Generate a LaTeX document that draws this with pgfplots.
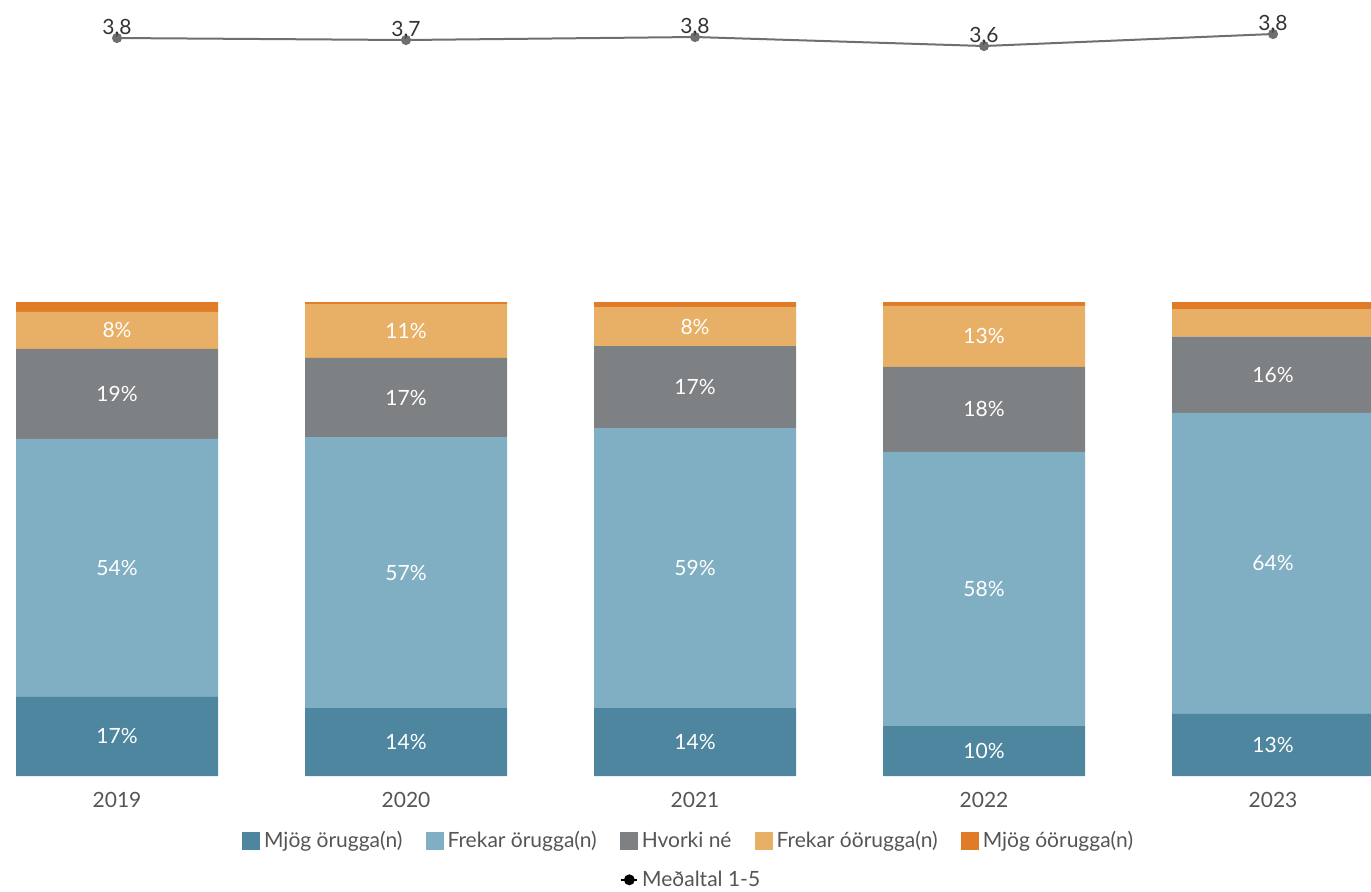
\documentclass[border=0pt]{standalone}
\usepackage{fontspec}
\setmainfont{Lato}
\usepackage{pgfplots}
\usepackage{pgfplotstable}
\pgfplotsset{compat=1.18}
\definecolor{c1}{HTML}{4E86A0}
\definecolor{c2}{HTML}{80AEC3}
\definecolor{c3}{HTML}{7D8184}
\definecolor{c4}{HTML}{E8AF66}
\definecolor{c5}{HTML}{E07B27}
\definecolor{linegray}{HTML}{6F6F6F}
\definecolor{txtgray}{HTML}{555555}
\definecolor{txtdark}{HTML}{333333}
\newcommand{\fs}{\fontsize{10.5}{12.6}\selectfont}
\pgfplotstableread{
x a b c d e
0 16.7 54.4 19.0 7.8 2.1
1 14.3 57.2 16.7 11.4 0.4
2 14.3 59.1 17.3 8.2 1.1
3 10.5 57.9 17.9 12.9 0.8
4 13.1 63.5 16.1 5.8 1.5
}\bars
\pgfplotstableread{
x y lab
0 8.35 17
0 43.9 54
0 80.6 19
0 94.0 8
1 7.15 14
1 42.9 57
1 79.85 17
1 93.9 11
2 7.15 14
2 43.85 59
2 82.05 17
2 94.8 8
3 5.25 10
3 39.45 58
3 77.35 18
3 92.75 13
4 6.55 13
4 44.85 64
4 84.65 16
}\labs
\begin{document}
\begin{tikzpicture}
\useasboundingbox (0pt,-57.5pt) rectangle (685.5pt,388pt);
% stacked bars
\begin{axis}[
  at={(0pt,0pt)}, anchor=south west, scale only axis,
  width=685.5pt, height=237pt,
  xmin=-0.405, xmax=4.339, ymin=0, ymax=100,
  ybar stacked, bar width=101pt,
  axis line style={draw=none}, ytick=\empty,
  xtick={0,1,2,3,4}, xticklabels={2019,2020,2021,2022,2023},
  major tick length=0pt,
  xticklabel style={font=\fs, text=txtgray, anchor=base, yshift=-15.75pt},
  legend style={at={(0.503,-0.137)}, anchor=center, draw=none, fill=none,
    legend columns=5, font=\fs, text=txtgray,
    /tikz/every even column/.append style={column sep=9.5pt}},
  legend image code/.code={\fill[#1] (0pt,-4.5pt) rectangle (9pt,4.5pt);},
]
\addplot[fill=c1, draw=none] table[x=x,y=a] {\bars};
\addplot[fill=c2, draw=none] table[x=x,y=b] {\bars};
\addplot[fill=c3, draw=none] table[x=x,y=c] {\bars};
\addplot[fill=c4, draw=none] table[x=x,y=d] {\bars};
\addplot[fill=c5, draw=none] table[x=x,y=e] {\bars};
\legend{Mjög örugga(n), Frekar örugga(n), Hvorki né, Frekar óörugga(n), Mjög óörugga(n)}
\end{axis}
% bar labels
\begin{axis}[
  at={(0pt,0pt)}, anchor=south west, scale only axis,
  width=685.5pt, height=237pt,
  xmin=-0.405, xmax=4.339, ymin=0, ymax=100,
  hide axis, clip=false,
]
\addplot[draw=none, mark=none, point meta=explicit symbolic,
  nodes near coords={\pgfplotspointmeta\%},
  every node near coord/.append style={anchor=center, text=white, font=\fs}]
  table[x=x,y=y,meta=lab] {\labs};
\end{axis}
% mean line
\begin{axis}[
  at={(0pt,357.5pt)}, anchor=south west, scale only axis,
  width=685.5pt, height=17.5pt,
  xmin=-0.405, xmax=4.339, ymin=3.3, ymax=4.0,
  hide axis, clip=false,
  /pgf/number format/assume math mode=true,
  /pgf/number format/fixed,
  /pgf/number format/fixed zerofill,
  /pgf/number format/precision=1,
  /pgf/number format/use comma,
  legend style={at={(0.505,-23.4)}, anchor=center, draw=none, fill=none,
    font=\fs, text=txtgray},
  legend image code/.code={\draw[black, line width=0.8pt] (0pt,0pt) -- (8pt,0pt); \fill[black] (4pt,0pt) circle (2.2pt);},
]
\addplot[color=linegray, line width=1pt, mark=*, mark size=2pt,
  nodes near coords,
  every node near coord/.append style={anchor=south, text=txtdark, font=\fs, yshift=-3.5pt}]
  coordinates {(0,3.76) (1,3.72) (2,3.78) (3,3.60) (4,3.84)};
\legend{Meðaltal 1-5}
\end{axis}
\end{tikzpicture}
\end{document}
